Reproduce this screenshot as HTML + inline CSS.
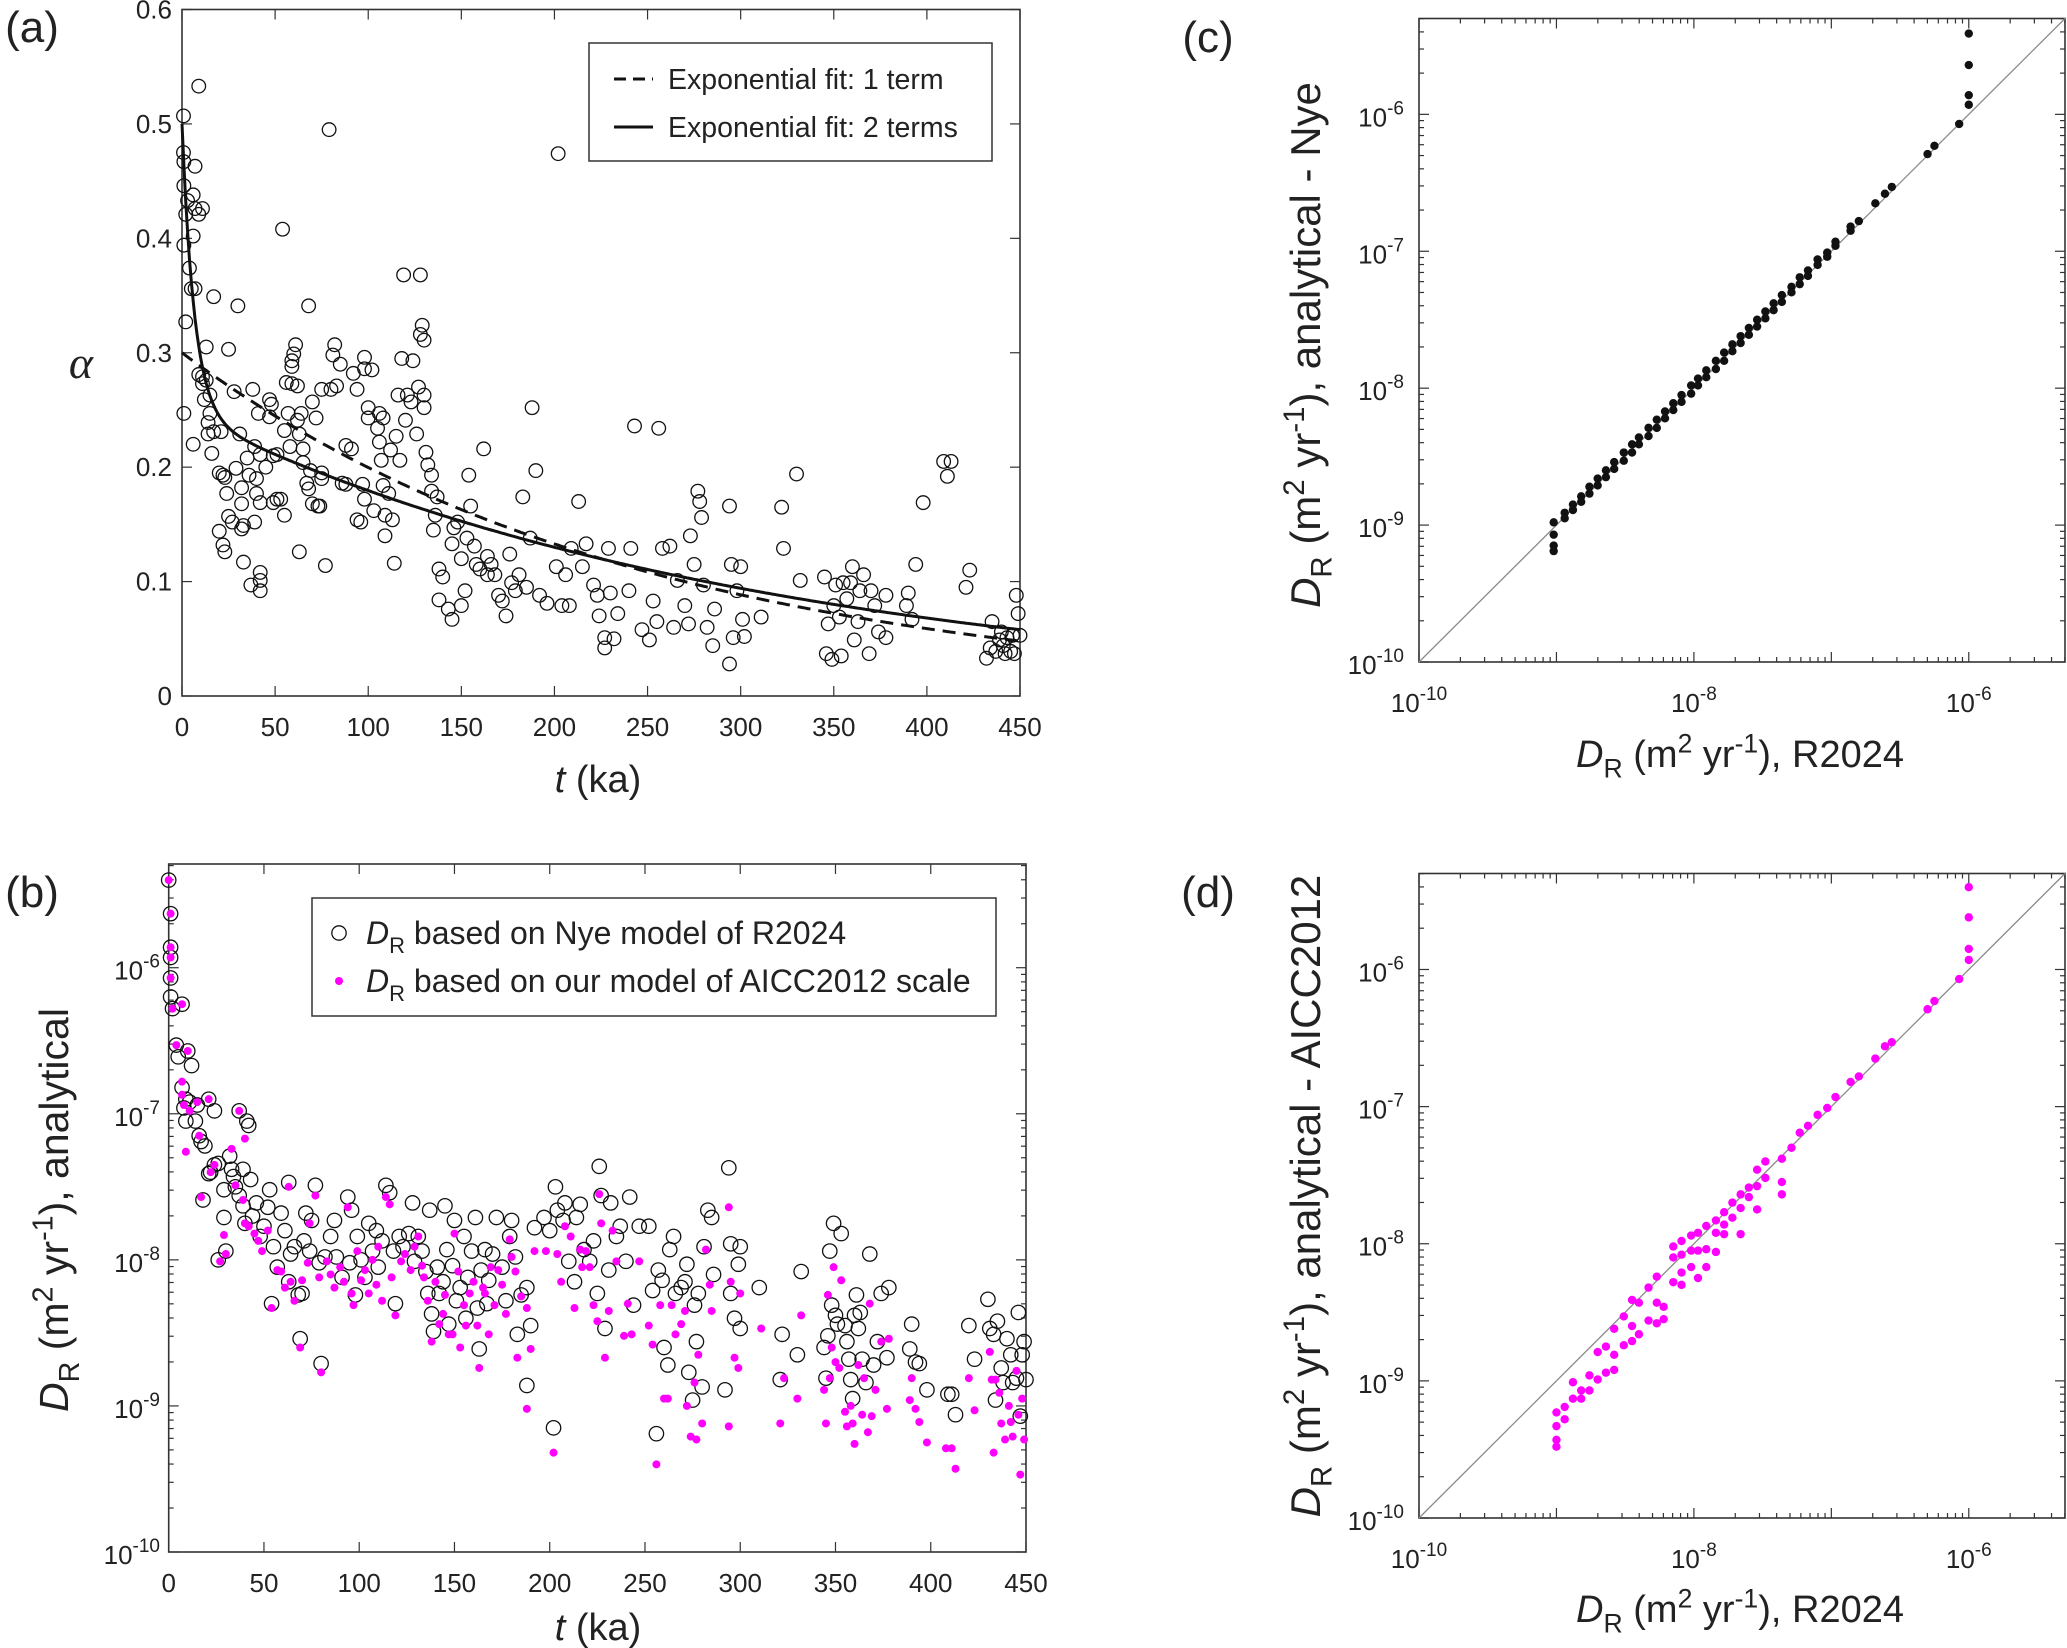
<!DOCTYPE html>
<html><head><meta charset="utf-8"><title>Figure panels a-d</title>
<style>
html,body{margin:0;padding:0;background:#fff;}
svg{display:block;font-family:"Liberation Sans",Arial,sans-serif;}
</style></head>
<body>
<svg id="chart" width="2067" height="1648" viewBox="0 0 2067 1648" xmlns="http://www.w3.org/2000/svg"></svg>
<script>
// ---------- Panel (a) data: t (ka) and alpha ----------
const tA = [0.8,0.8,1,1,2,1,2,1,9,7,6,7,9,11,3,6,4,5,7,13,17,9,11,11,12,13,15,15,14,16,14,6,17,21,20,22,23,24,20,22,23,25,28,25,27,29,30,31,32,32,33,32,33,35,36,37,38,39,40,40,39,41,42,42,42,42,42,45,47,47,48,49,49,51,51,54,55,53,55,56,57,58,59,59,59,60,61,62,63,62,63,64,65,65,67,68,68,70,69,70,72,73,74,75,77,75,75,79,80,81,82,83,85,86,88,88,91,92,94,94,96,97,98,98,98,100,100,102,103,105,106,106,107,108,108,109,109,111,112,113,114,115,116,117,118,119,120,121,123,124,126,127,128,128,129,130,130,130,131,132,134,134,135,136,137,138,138,140,143,145,145,146,148,150,150,152,153,154,155,157,158,160,162,164,164,166,168,170,172,174,176,177,179,181,183,185,187,188,190,192,196,201,202,204,206,208,209,213,215,217,221,223,224,227,227,229,230,232,234,240,241,243,247,251,253,255,256,258,262,264,266,270,272,273,275,277,278,279,280,282,285,286,294,294,295,296,298,300,301,302,311,322,323,330,332,345,346,347,349,350,351,353,354,355,357,359,360,361,363,364,366,369,370,372,374,378,378,389,390,392,394,398,409,411,413,421,423,432,434,435,437,439,440,441,442,443,445,446,447,448,449,450];
const alphaA = [0.507,0.475,0.467,0.446,0.421,0.394,0.327,0.247,0.533,0.463,0.438,0.426,0.421,0.426,0.433,0.402,0.374,0.356,0.356,0.305,0.349,0.281,0.279,0.273,0.259,0.276,0.263,0.247,0.239,0.212,0.229,0.220,0.231,0.231,0.195,0.193,0.191,0.177,0.144,0.132,0.126,0.303,0.266,0.157,0.152,0.199,0.341,0.229,0.182,0.168,0.149,0.146,0.117,0.208,0.193,0.097,0.268,0.218,0.190,0.177,0.152,0.247,0.108,0.101,0.092,0.211,0.169,0.200,0.259,0.244,0.255,0.210,0.169,0.211,0.172,0.408,0.232,0.172,0.158,0.274,0.247,0.218,0.273,0.293,0.288,0.299,0.307,0.271,0.126,0.241,0.229,0.247,0.216,0.204,0.186,0.181,0.341,0.257,0.197,0.168,0.243,0.166,0.166,0.268,0.114,0.195,0.190,0.495,0.268,0.298,0.307,0.271,0.290,0.186,0.185,0.219,0.216,0.282,0.268,0.154,0.152,0.185,0.296,0.286,0.172,0.252,0.243,0.285,0.162,0.234,0.247,0.222,0.206,0.243,0.184,0.140,0.158,0.177,0.215,0.154,0.116,0.227,0.263,0.206,0.295,0.368,0.241,0.263,0.257,0.293,0.229,0.270,0.316,0.368,0.324,0.311,0.252,0.263,0.213,0.202,0.179,0.193,0.145,0.158,0.174,0.111,0.084,0.104,0.076,0.133,0.067,0.147,0.152,0.120,0.079,0.092,0.138,0.193,0.166,0.131,0.115,0.111,0.216,0.122,0.106,0.115,0.106,0.088,0.083,0.070,0.124,0.099,0.092,0.106,0.174,0.095,0.138,0.252,0.197,0.088,0.081,0.113,0.474,0.079,0.106,0.079,0.129,0.170,0.113,0.133,0.097,0.088,0.070,0.051,0.042,0.129,0.090,0.050,0.072,0.092,0.129,0.236,0.058,0.049,0.083,0.065,0.234,0.129,0.131,0.060,0.101,0.079,0.063,0.140,0.115,0.179,0.170,0.156,0.097,0.060,0.044,0.076,0.166,0.028,0.115,0.051,0.092,0.113,0.067,0.052,0.069,0.165,0.129,0.194,0.101,0.104,0.037,0.063,0.032,0.079,0.097,0.069,0.035,0.099,0.085,0.099,0.113,0.049,0.065,0.092,0.106,0.037,0.092,0.079,0.056,0.051,0.088,0.079,0.090,0.067,0.115,0.169,0.205,0.192,0.205,0.095,0.110,0.033,0.042,0.065,0.039,0.049,0.056,0.044,0.037,0.051,0.039,0.053,0.037,0.088,0.072,0.053];
const fit1Params = [0.30, -0.00407];
const fit2Params = [0.252, -0.151, 0.248, -0.00323];
const xTicksA = [0,50,100,150,200,250,300,350,400,450];
const yTicksA = [0,0.1,0.2,0.3,0.4,0.5,0.6];

// ---------- Panel (b) data: t (ka), log10 D_R ----------
const tNye = [0,1,1,1,1,1,2,7,4,5,10,12,7,8,9,9,11,14,15,16,17,19,21,24,21,24,26,18,22,29,29,30,26,32,33,34,35,37,37,39,39,40,41,42,43,44,46,48,50,52,53,54,55,57,59,61,63,63,64,66,68,69,70,71,72,74,75,77,79,80,82,85,87,88,91,94,95,96,98,99,101,103,105,107,109,110,112,114,116,118,119,121,123,126,128,129,131,133,135,136,137,138,139,141,142,144,145,146,147,149,150,151,153,155,156,157,159,161,162,163,164,166,167,168,170,172,175,177,179,180,182,183,185,188,188,190,192,197,200,202,203,204,207,208,210,213,214,216,218,221,223,225,226,227,229,231,232,235,237,240,242,244,247,252,254,256,257,259,260,262,263,265,266,269,271,272,273,275,276,277,278,280,281,283,285,286,292,294,295,295,297,299,300,300,310,321,322,330,332,344,345,346,347,348,349,350,351,353,355,356,357,358,359,360,361,362,363,364,366,368,370,372,374,377,378,389,390,392,394,398,409,411,413,420,423,430,431,433,434,435,437,438,440,442,443,445,446,447,448,449,450];
const logNye = [-5.40,-5.63,-5.86,-5.93,-6.07,-6.20,-6.28,-6.25,-6.53,-6.61,-6.57,-6.67,-6.82,-6.96,-7.05,-6.90,-6.92,-7.05,-6.94,-7.15,-7.19,-7.22,-6.90,-6.98,-7.41,-7.35,-7.34,-7.59,-7.40,-7.52,-7.71,-7.94,-8.00,-7.29,-7.38,-7.43,-7.50,-6.98,-7.56,-7.38,-7.63,-7.75,-7.05,-7.08,-7.45,-7.70,-7.61,-7.84,-7.77,-7.64,-7.52,-8.30,-7.91,-8.05,-7.68,-7.80,-7.47,-8.15,-7.96,-7.91,-8.24,-8.54,-8.23,-7.87,-7.68,-7.94,-7.73,-7.49,-8.02,-8.71,-7.98,-7.84,-7.73,-7.98,-8.12,-7.57,-8.02,-7.66,-8.24,-7.84,-8.00,-8.12,-7.75,-7.94,-7.80,-8.05,-7.87,-7.49,-7.54,-7.94,-8.30,-7.84,-7.91,-7.82,-7.61,-8.01,-7.84,-7.94,-8.08,-8.23,-7.66,-8.37,-8.49,-8.05,-8.23,-8.15,-7.63,-7.93,-8.44,-8.04,-7.73,-8.28,-8.19,-7.84,-8.40,-8.12,-7.94,-7.71,-8.33,-8.61,-8.07,-7.93,-8.30,-8.14,-7.96,-7.71,-8.05,-8.28,-7.84,-7.73,-7.98,-8.51,-8.24,-8.19,-8.86,-8.45,-7.78,-7.71,-7.80,-9.15,-7.50,-7.66,-7.73,-7.61,-8.01,-8.15,-7.71,-7.62,-7.93,-8.01,-7.87,-8.23,-7.36,-7.56,-8.47,-8.07,-7.61,-7.84,-7.77,-8.01,-7.57,-8.31,-7.77,-7.77,-8.21,-9.19,-8.07,-8.14,-8.60,-8.72,-7.93,-7.84,-8.23,-8.19,-8.15,-8.03,-8.77,-8.96,-8.31,-8.56,-8.23,-8.87,-7.91,-7.66,-7.71,-8.10,-8.89,-7.37,-8.23,-7.89,-8.40,-8.03,-7.91,-8.47,-8.19,-8.82,-8.51,-8.65,-8.08,-8.60,-8.81,-8.52,-7.94,-8.31,-7.75,-8.38,-8.44,-7.82,-8.45,-8.56,-8.68,-8.82,-8.95,-8.38,-8.24,-8.47,-8.36,-8.68,-8.84,-7.96,-8.72,-8.56,-8.23,-8.67,-8.19,-8.61,-8.44,-8.70,-8.71,-8.89,-8.92,-8.92,-9.06,-8.45,-8.68,-8.27,-8.47,-8.51,-8.96,-8.42,-8.74,-8.84,-8.54,-8.65,-8.84,-8.81,-8.36,-9.07,-8.65,-8.56,-8.82];
const tAicc = [0,1,1,1,1,2,7,4,10,7,7,8,9,11,15,16,17,21,22,24,27,29,30,33,35,37,39,40,40,42,45,47,49,52,54,57,59,61,63,64,66,69,70,73,74,77,79,80,83,85,87,90,92,94,96,97,99,101,103,105,107,109,110,112,114,116,117,119,122,124,127,129,131,133,134,136,138,140,142,144,145,147,149,150,152,153,155,156,158,160,162,163,165,166,168,169,171,173,175,177,179,180,182,183,185,188,188,190,192,198,202,204,206,208,211,213,216,217,219,221,223,225,226,227,229,231,233,235,239,241,243,247,252,254,256,258,260,262,264,266,269,271,272,274,276,277,278,280,282,284,285,294,294,295,297,299,300,311,321,323,330,332,344,345,346,347,348,349,350,352,353,355,356,358,359,360,362,364,365,367,368,369,371,374,377,378,389,390,392,394,398,408,411,413,420,423,431,432,433,434,436,437,439,441,442,443,445,446,447,448,449];
const logAicc = [-5.40,-5.63,-5.86,-5.93,-6.07,-6.28,-6.25,-6.53,-6.57,-6.78,-6.87,-6.94,-7.26,-6.98,-6.92,-7.15,-7.57,-6.90,-7.40,-7.35,-8.01,-7.83,-7.96,-7.24,-7.49,-6.98,-7.59,-7.75,-7.17,-7.77,-7.82,-7.87,-7.94,-7.80,-8.33,-8.07,-8.08,-8.19,-7.50,-8.15,-8.28,-8.60,-8.14,-8.02,-7.75,-7.56,-8.12,-8.77,-8.01,-8.10,-8.19,-8.05,-8.15,-7.64,-8.23,-8.31,-7.94,-8.14,-8.07,-8.23,-8.00,-8.17,-7.91,-8.28,-7.57,-7.62,-8.12,-8.38,-8.01,-7.96,-8.07,-7.91,-7.84,-8.04,-8.12,-8.28,-8.56,-8.15,-8.44,-8.37,-8.24,-8.51,-8.51,-7.82,-8.08,-8.60,-8.31,-8.45,-8.23,-8.15,-8.45,-8.74,-8.19,-8.23,-8.51,-8.05,-8.31,-8.07,-8.17,-8.37,-7.86,-7.98,-8.08,-8.67,-8.25,-8.33,-9.02,-8.61,-7.94,-7.94,-9.32,-7.96,-8.15,-7.77,-7.84,-8.33,-7.93,-8.05,-7.94,-8.05,-8.31,-8.42,-7.55,-7.75,-8.67,-8.35,-7.80,-8.01,-8.52,-8.30,-8.51,-8.01,-8.45,-8.58,-9.40,-8.31,-8.95,-8.95,-8.31,-8.51,-8.44,-8.35,-9.00,-9.21,-8.84,-9.23,-8.65,-9.12,-7.93,-8.17,-8.35,-7.64,-9.14,-8.15,-8.67,-8.74,-8.23,-8.47,-9.12,-8.81,-8.95,-8.38,-8.89,-9.12,-8.24,-8.81,-8.60,-8.05,-8.70,-8.74,-8.14,-9.04,-9.14,-9.00,-9.12,-9.26,-8.72,-9.06,-8.81,-9.18,-8.30,-9.07,-8.89,-8.56,-9.02,-8.54,-8.96,-8.81,-9.02,-9.11,-9.25,-9.29,-9.29,-9.43,-8.81,-9.03,-8.63,-8.82,-9.32,-8.82,-8.91,-9.12,-9.23,-9.00,-9.11,-9.21,-8.76,-9.06,-9.47,-8.95,-9.23];
const xTicksB = [0,50,100,150,200,250,300,350,400,450];
const yDecadesB = [-10,-9,-8,-7,-6];

// ---------- Panel (c) data ----------
const logR2024C = [-9.02,-9.02,-9.02,-9.02,-8.94,-8.94,-8.88,-8.88,-8.82,-8.82,-8.76,-8.76,-8.70,-8.70,-8.64,-8.64,-8.58,-8.58,-8.51,-8.51,-8.45,-8.45,-8.40,-8.40,-8.33,-8.33,-8.27,-8.27,-8.21,-8.21,-8.15,-8.15,-8.09,-8.09,-8.02,-8.02,-7.97,-7.97,-7.91,-7.91,-7.84,-7.84,-7.78,-7.78,-7.72,-7.72,-7.66,-7.66,-7.60,-7.60,-7.54,-7.54,-7.48,-7.48,-7.42,-7.42,-7.36,-7.36,-7.29,-7.29,-7.23,-7.23,-7.17,-7.17,-7.10,-7.10,-7.03,-7.03,-6.97,-6.97,-6.86,-6.86,-6.80,-6.68,-6.61,-6.56,-6.30,-6.25,-6.07,-6.00,-6.00,-6.00,-6.00];
const logNyeC = [-8.98,-9.07,-9.15,-9.19,-8.91,-8.95,-8.85,-8.89,-8.79,-8.83,-8.72,-8.77,-8.66,-8.71,-8.60,-8.65,-8.54,-8.59,-8.47,-8.53,-8.41,-8.47,-8.36,-8.41,-8.29,-8.35,-8.23,-8.29,-8.17,-8.22,-8.11,-8.16,-8.05,-8.10,-7.98,-8.04,-7.93,-7.98,-7.87,-7.92,-7.80,-7.86,-7.74,-7.80,-7.68,-7.73,-7.62,-7.67,-7.56,-7.61,-7.50,-7.55,-7.44,-7.49,-7.38,-7.43,-7.32,-7.37,-7.26,-7.30,-7.19,-7.24,-7.14,-7.18,-7.06,-7.10,-7.01,-7.04,-6.93,-6.96,-6.82,-6.85,-6.78,-6.65,-6.58,-6.53,-6.29,-6.23,-6.07,-5.93,-5.86,-5.64,-5.41];

// ---------- Panel (d) data ----------
const logR2024D = [-9.00,-9.00,-9.00,-9.00,-8.94,-8.94,-8.88,-8.88,-8.82,-8.82,-8.76,-8.76,-8.70,-8.70,-8.64,-8.64,-8.58,-8.58,-8.58,-8.51,-8.51,-8.45,-8.45,-8.45,-8.40,-8.40,-8.33,-8.33,-8.27,-8.27,-8.27,-8.22,-8.22,-8.15,-8.15,-8.15,-8.09,-8.09,-8.09,-8.09,-8.02,-8.02,-8.02,-7.97,-7.97,-7.97,-7.91,-7.91,-7.91,-7.84,-7.84,-7.84,-7.78,-7.78,-7.78,-7.72,-7.72,-7.66,-7.66,-7.66,-7.60,-7.60,-7.54,-7.54,-7.54,-7.48,-7.48,-7.36,-7.36,-7.36,-7.29,-7.23,-7.17,-7.10,-7.03,-6.97,-6.86,-6.80,-6.68,-6.61,-6.56,-6.30,-6.25,-6.07,-6.00,-6.00,-6.00,-6.00];
const logAiccD = [-9.23,-9.33,-9.43,-9.48,-9.19,-9.28,-9.01,-9.13,-9.07,-9.13,-8.96,-9.07,-8.79,-8.99,-8.75,-8.94,-8.62,-8.81,-8.92,-8.53,-8.74,-8.41,-8.60,-8.71,-8.43,-8.66,-8.32,-8.56,-8.24,-8.43,-8.58,-8.46,-8.55,-8.02,-8.10,-8.28,-7.98,-8.08,-8.21,-8.30,-7.94,-8.05,-8.17,-7.92,-8.05,-8.25,-7.87,-8.04,-8.17,-7.83,-7.92,-8.06,-7.77,-7.86,-7.93,-7.70,-7.81,-7.64,-7.74,-7.93,-7.59,-7.66,-7.46,-7.58,-7.75,-7.40,-7.52,-7.38,-7.55,-7.64,-7.30,-7.19,-7.14,-7.06,-7.01,-6.93,-6.82,-6.78,-6.65,-6.56,-6.53,-6.29,-6.23,-6.07,-5.93,-5.85,-5.62,-5.40];
const logTickLabelsCD = [-10,-8,-6];
const yDecadesCD = [-10,-9,-8,-7,-6];

// ---------- helpers ----------
const NS = 'http://www.w3.org/2000/svg';
const svg = document.getElementById('chart');
function mk(tag, attrs, parent) {
  const e = document.createElementNS(NS, tag);
  for (const k in attrs) e.setAttribute(k, attrs[k]);
  (parent || svg).appendChild(e);
  return e;
}
function group(name) {
  const g = mk('g', {});
  
  
  return g;
}
function line(g, x1, y1, x2, y2, stroke, w) {
  return mk('line', {x1:x1, y1:y1, x2:x2, y2:y2, stroke:stroke, 'stroke-width':w}, g);
}
function text(g, x, y, str, size, anchor) {
  const t = mk('text', {x:x, y:y, 'font-size':size, 'text-anchor':anchor || 'middle', fill:'#222'}, g);
  t.textContent = str;
  return t;
}
function powText(g, x, y, exp, anchor) {
  const t = mk('text', {x:x, y:y, 'font-size':26, 'text-anchor':anchor, fill:'#222'}, g);
  const a = mk('tspan', {}, t); a.textContent = '10';
  const b = mk('tspan', {dy:-12, 'font-size':19}, t); b.textContent = String(exp);
  return t;
}
function frame(g, P) {
  mk('rect', {x:P.x0, y:P.y0, width:P.x1-P.x0, height:P.y1-P.y0, fill:'none', stroke:'#333', 'stroke-width':1.6}, g);
}
function logTicksX(g, P, toX, lo, hi) {
  for (let d = lo; d < hi; d++) {
    for (let m = 1; m <= 9; m++) {
      const v = d + Math.log10(m);
      if (v > hi) break;
      const x = toX(v); const L = m === 1 ? 10 : 5;
      line(g, x, P.y1, x, P.y1 - L, '#333', 1.2);
      line(g, x, P.y0, x, P.y0 + L, '#333', 1.2);
    }
  }
}
function logTicksY(g, P, toY, lo, hi) {
  for (let d = lo; d < hi; d++) {
    for (let m = 1; m <= 9; m++) {
      const v = d + Math.log10(m);
      if (v > hi) break;
      const y = toY(v); const L = m === 1 ? 10 : 5;
      line(g, P.x0, y, P.x0 + L, y, '#333', 1.2);
      line(g, P.x1, y, P.x1 - L, y, '#333', 1.2);
    }
  }
}
function drLabel(g, x, y, size, rest, rotate) {
  const t = mk('text', {x:x, y:y, 'font-size':size, 'text-anchor':'middle', fill:'#222'}, g);
  if (rotate) t.setAttribute('transform', 'rotate(-90 ' + x + ' ' + y + ')');
  const s = size * 0.7, sub = size * 0.27, sup = size * 0.38;
  const a = mk('tspan', {'font-style':'italic'}, t); a.textContent = 'D';
  const b = mk('tspan', {dy:sub, 'font-size':s}, t); b.textContent = 'R';
  const c = mk('tspan', {dy:-sub}, t); c.textContent = ' (m';
  const d = mk('tspan', {dy:-sup, 'font-size':s}, t); d.textContent = '2';
  const e = mk('tspan', {dy:sup}, t); e.textContent = ' yr';
  const f = mk('tspan', {dy:-sup, 'font-size':s}, t); f.textContent = '-1';
  const h = mk('tspan', {dy:sup}, t); h.textContent = '), ' + rest;
  return t;
}

// ================= Panel (a) =================
const PA = {x0:182, x1:1020, y0:9.5, y1:696};
const xA = t => PA.x0 + t / 450 * (PA.x1 - PA.x0);
const yA = a => PA.y1 - a / 0.6 * (PA.y1 - PA.y0);
const gA = group('panel-a');
const gAx = group('panel-a-axes'); gA.appendChild(gAx);
frame(gAx, PA);
xTicksA.forEach(t => {
  line(gAx, xA(t), PA.y1, xA(t), PA.y1 - 10, '#333', 1.2);
  line(gAx, xA(t), PA.y0, xA(t), PA.y0 + 10, '#333', 1.2);
  const lb = text(gAx, xA(t), 736, String(t), 26);
  
  
});
yTicksA.forEach(v => {
  line(gAx, PA.x0, yA(v), PA.x0 + 10, yA(v), '#333', 1.2);
  line(gAx, PA.x1, yA(v), PA.x1 - 10, yA(v), '#333', 1.2);
  const lb = text(gAx, 172, yA(v) + 9, v === 0 ? '0' : v.toFixed(1), 26, 'end');
  
  
});
const gAp = group('alpha-points'); gA.appendChild(gAp);
for (let i = 0; i < Math.min(tA.length, alphaA.length); i++) {
  const c = mk('circle', {cx:xA(tA[i]), cy:yA(alphaA[i]), r:6.8, fill:'none', stroke:'#111', 'stroke-width':1.3}, gAp);
  
  
}
let p1 = '', p2 = '';
for (let t = 0; t <= 450; t += 1) {
  const a1 = fit1Params[0] * Math.exp(fit1Params[1] * t);
  const a2 = fit2Params[0] * Math.exp(fit2Params[1] * t) + fit2Params[2] * Math.exp(fit2Params[3] * t);
  p1 += (t ? 'L' : 'M') + xA(t).toFixed(1) + ' ' + yA(a1).toFixed(1);
  p2 += (t ? 'L' : 'M') + xA(t).toFixed(1) + ' ' + yA(a2).toFixed(1);
}
const fl1 = mk('path', {d:p1, fill:'none', stroke:'#111', 'stroke-width':3, 'stroke-dasharray':'13 8'}, gA);


const fl2 = mk('path', {d:p2, fill:'none', stroke:'#111', 'stroke-width':3}, gA);


const gLA = group('legend-a'); gA.appendChild(gLA);
mk('rect', {x:589, y:43, width:403, height:118, fill:'#fff', stroke:'#333', 'stroke-width':1.5}, gLA);
line(gLA, 614, 79, 653, 79, '#111', 3).setAttribute('stroke-dasharray', '12 7');
text(gLA, 668, 89, 'Exponential fit: 1 term', 28.5, 'start');
line(gLA, 614, 127, 653, 127, '#111', 3);
text(gLA, 668, 137, 'Exponential fit: 2 terms', 28.5, 'start');
const laA = text(gA, 32, 42, '(a)', 44);


const alab = mk('text', {x:81, y:378, 'font-size':46, 'font-style':'italic', 'font-family':'"Liberation Serif",serif', 'text-anchor':'middle', fill:'#222'}, gA);
alab.textContent = 'α';


const xtA = mk('text', {x:598, y:792, 'font-size':38, 'text-anchor':'middle', fill:'#222'}, gA);


const xtA1 = mk('tspan', {'font-style':'italic'}, xtA); xtA1.textContent = 't';
const xtA2 = mk('tspan', {}, xtA); xtA2.textContent = ' (ka)';

// ================= Panel (b) =================
const PB = {x0:168.7, x1:1026, y0:864, y1:1552, lo:-10, hi:-5.29};
const xB = t => PB.x0 + t / 450 * (PB.x1 - PB.x0);
const yB = v => PB.y1 - (v - PB.lo) / (PB.hi - PB.lo) * (PB.y1 - PB.y0);
const gB = group('panel-b');
const gBx = group('panel-b-axes'); gB.appendChild(gBx);
frame(gBx, PB);
xTicksB.forEach(t => {
  line(gBx, xB(t), PB.y1, xB(t), PB.y1 - 10, '#333', 1.2);
  line(gBx, xB(t), PB.y0, xB(t), PB.y0 + 10, '#333', 1.2);
  const lb = text(gBx, xB(t), 1592, String(t), 26);
  
  
});
logTicksY(gBx, PB, yB, -10, PB.hi);
yDecadesB.forEach(d => {
  const lb = powText(gBx, 160, yB(d) + 12, d, 'end');
  
  
});
const gBn = group('nye-points'); gB.appendChild(gBn);
for (let i = 0; i < Math.min(tNye.length, logNye.length); i++) {
  const c = mk('circle', {cx:xB(tNye[i]), cy:yB(logNye[i]), r:7.2, fill:'none', stroke:'#111', 'stroke-width':1.3}, gBn);
  
  
}
const gBa = group('aicc-points'); gB.appendChild(gBa);
for (let i = 0; i < Math.min(tAicc.length, logAicc.length); i++) {
  const c = mk('circle', {cx:xB(tAicc[i]), cy:yB(logAicc[i]), r:4, fill:'#ff00ff'}, gBa);
  
  
}
const gLB = group('legend-b'); gB.appendChild(gLB);
mk('rect', {x:312, y:898, width:684, height:118, fill:'#fff', stroke:'#333', 'stroke-width':1.5}, gLB);
mk('circle', {cx:339, cy:933, r:7.2, fill:'none', stroke:'#111', 'stroke-width':1.3}, gLB);
mk('circle', {cx:339, cy:981, r:4, fill:'#ff00ff'}, gLB);
[['based on Nye model of R2024', 944], ['based on our model of AICC2012 scale', 992]].forEach(e => {
  const t = mk('text', {x:366, y:e[1], 'font-size':32, fill:'#222'}, gLB);
  const a = mk('tspan', {'font-style':'italic'}, t); a.textContent = 'D';
  const b = mk('tspan', {dy:9, 'font-size':22}, t); b.textContent = 'R';
  const c = mk('tspan', {dy:-9}, t); c.textContent = ' ' + e[0];
});
const laB = text(gB, 32, 907, '(b)', 44);


const ytB = drLabel(gB, 68, 1210, 41, 'analytical', true);


const xtB = mk('text', {x:598, y:1640, 'font-size':38, 'text-anchor':'middle', fill:'#222'}, gB);


const xtB1 = mk('tspan', {'font-style':'italic'}, xtB); xtB1.textContent = 't';
const xtB2 = mk('tspan', {}, xtB); xtB2.textContent = ' (ka)';

// ================= Panels (c) and (d) =================
function scatterPanel(name, P, xs, ys, color, label, yRest, labelY, yTitleY, xTitleY, xTickY) {
  const lo = -10, hi = -5.30;
  const X = v => P.x0 + (v - lo) / (hi - lo) * (P.x1 - P.x0);
  const Y = v => P.y1 - (v - lo) / (hi - lo) * (P.y1 - P.y0);
  const g = group('panel-' + name);
  const gx = group('panel-' + name + '-axes'); g.appendChild(gx);
  frame(gx, P);
  logTicksX(gx, P, X, lo, hi);
  logTicksY(gx, P, Y, lo, hi);
  logTickLabelsCD.forEach(d => {
    const lb = powText(gx, X(d), xTickY, d, 'middle');
    
    
  });
  yDecadesCD.forEach(d => {
    const lb = powText(gx, 1404, Y(d) + 12, d, 'end');
    
    
  });
  const diag = line(g, X(lo), Y(lo), X(hi), Y(hi), '#8a8a8a', 1.3);
  
  
  const gp = group(name + '-points'); g.appendChild(gp);
  for (let i = 0; i < Math.min(xs.length, ys.length); i++) {
    const c = mk('circle', {cx:X(xs[i]), cy:Y(ys[i]), r:4.2, fill:color}, gp);
    
    
  }
  const lab = text(g, 1208, labelY, label, 44);
  
  
  const yt = drLabel(g, 1320, yTitleY, 42, yRest, true);
  
  
  const xt = drLabel(g, 1740, xTitleY, 38, 'R2024', false);
  
  
}
scatterPanel('c', {x0:1419, x1:2065, y0:18.5, y1:662}, logR2024C, logNyeC, '#111', '(c)', 'analytical - Nye', 52, 345, 767, 712);
scatterPanel('d', {x0:1419, x1:2065, y0:873.5, y1:1518}, logR2024D, logAiccD, '#ff00ff', '(d)', 'analytical - AICC2012', 907, 1196, 1622, 1568);
</script>
</body></html>
